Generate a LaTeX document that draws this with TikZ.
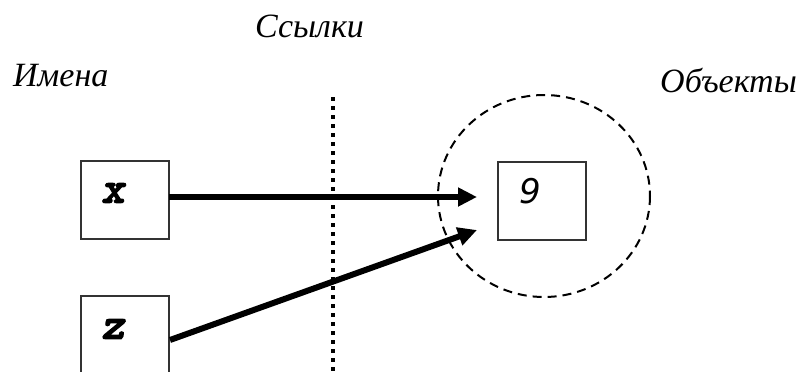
\documentclass[tikz,border=0pt]{standalone}
\usepackage{fontspec}
\setmainfont{Liberation Serif}
\newfontfamily\xzfont[FakeBold=3]{lmmonolt10-boldoblique.otf}
\newfontfamily\ninefont{DejaVu Sans}
\usetikzlibrary{arrows.meta}
\begin{document}
\begin{tikzpicture}[x=1pt,y=-1pt,
  cell/.style={draw=black!80,line width=1.2pt,minimum width=88pt,minimum height=78pt,inner sep=0pt},
  heading/.style={anchor=base west,inner sep=0pt,font=\fontsize{34}{40}\selectfont\itshape},
  varname/.style={inner sep=0pt,font=\xzfont\fontsize{44}{48}\selectfont},
  ref/.style={line width=6pt,-{Triangle[length=19pt,width=18pt]}}]
\useasboundingbox (0,0) rectangle (804,372);
\clip (0,0) rectangle (804,372);
\node[heading] (h1) at (255,37) {Ссылки};
\node[heading] (h2) at (13,86) {Имена};
\node[heading] (h3) at (660,92) {Объекты};
% region of objects
\draw[line width=2pt,dash pattern=on 9pt off 6pt] (544,196) ellipse [x radius=106, y radius=101];
% boundary
\coordinate (dtop) at (333,97);
\coordinate (dbot) at (333,375);
\draw[line width=4pt,dash pattern=on 4pt off 5pt] (dtop) -- (dbot);
% boxes
\node[cell] (bx) at (125,200) {};
\node[cell] (bz) at (125,335) {};
\node[cell] (bo) at (542,201) {};
\node[varname] (lx) at (113,193) {x};
\node[varname] (lz) at (113,329) {z};
\node[inner sep=0pt,font=\ninefont\fontsize{34}{40}\selectfont\itshape] (l9) at (530,191) {9};
% references
\coordinate (t1) at (477,197);
\coordinate (t2) at (477,230);
\coordinate (s1) at (169,197);
\coordinate (s2) at (170,340);
\draw[ref] (s1) -- (t1);
\draw[ref] (s2) -- (t2);
\end{tikzpicture}
\end{document}
